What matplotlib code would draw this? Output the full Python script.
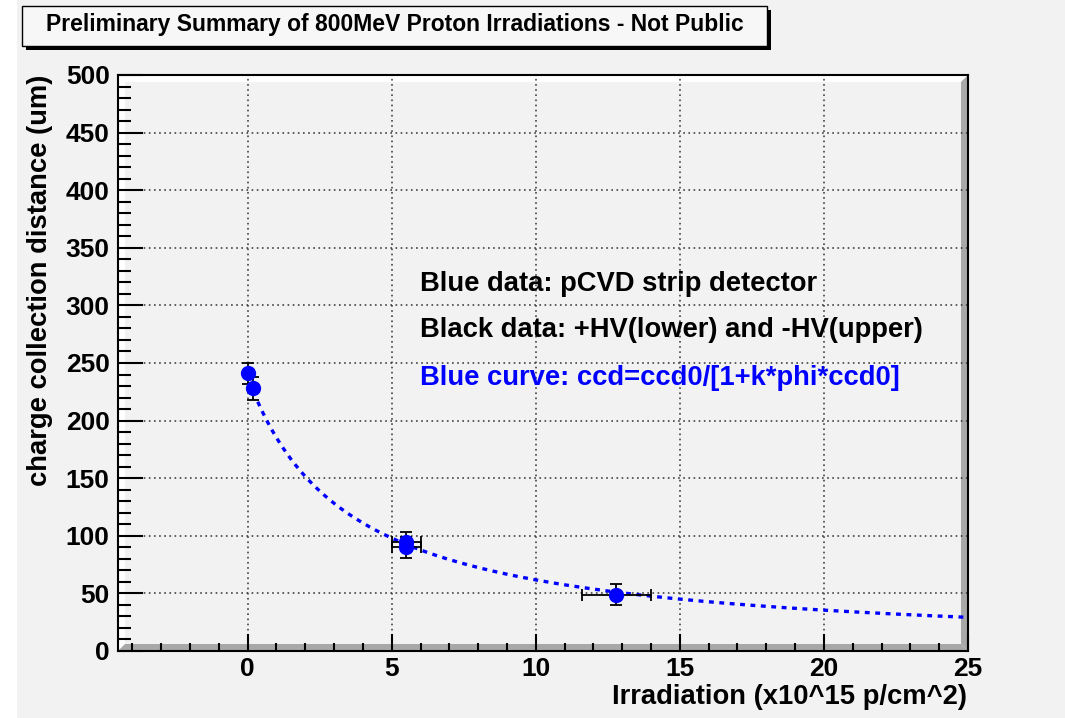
import numpy as np
import matplotlib.pyplot as plt
from matplotlib.patches import Polygon, Rectangle
from matplotlib.ticker import MultipleLocator

plt.rcParams['font.family'] = ['Liberation Sans', 'DejaVu Sans']
plt.rcParams['font.weight'] = 'bold'
plt.rcParams['lines.scale_dashes'] = False

# blue data: pCVD strip detector
phi = [0.0, 0.17, 5.5, 5.5, 12.8]
ccd = [241, 228, 95, 90, 49]
phi_err = [0, 0, 0.5, 0.5, 1.2]
ccd_err = [9, 10, 8, 9, 9]

# fit parameters, ccd = ccd0/(1+k*phi*ccd0)
ccd0 = 238.0
k = 0.0012
fit_start, fit_end = 0.35, 25

x_ticks = [0, 5, 10, 15, 20, 25]
y_ticks = [0, 50, 100, 150, 200, 250, 300, 350, 400, 450, 500]

title = 'Preliminary Summary of 800MeV Proton Irradiations - Not Public'
notes = ['Blue data: pCVD strip detector',
         'Black data: +HV(lower) and -HV(upper)',
         'Blue curve: ccd=ccd0/[1+k*phi*ccd0]']
note_colors = ['black', 'black', '#0000ff']
note_y = [319, 279, 237]

W, H = 1065, 718
bg = '#f2f2f2'

def px(x, y):
    # pixel position (from top-left) -> figure fraction
    return (x / W, 1 - y / H)

fig = plt.figure(figsize=(W / 100, H / 100), dpi=100, facecolor=bg)
fig.patches.append(Rectangle(px(0, H), 17 / W, 1, transform=fig.transFigure,
                             facecolor='white', edgecolor='none', zorder=0))

x0, x1, y0, y1 = 118, 968, 75, 651
ax = fig.add_axes([x0 / W, 1 - y1 / H, (x1 - x0) / W, (y1 - y0) / H])
ax.patch.set_visible(False)

# ROOT style bevelled frame
b = 7
bevels = [
    ([(x0, y0), (x1, y0), (x1 - b, y0 + b), (x0 + b, y0 + b)], 'white'),
    ([(x0, y0), (x0 + b, y0 + b), (x0 + b, y1 - b), (x0, y1)], 'white'),
    ([(x0, y1), (x1, y1), (x1 - b, y1 - b), (x0 + b, y1 - b)], '#a8a8a8'),
    ([(x1, y0), (x1, y1), (x1 - b, y1 - b), (x1 - b, y0 + b)], '#a8a8a8'),
]
for pts, c in bevels:
    ax.add_patch(Polygon([px(*p) for p in pts], closed=True, transform=fig.transFigure,
                         facecolor=c, edgecolor='none', zorder=0.1, clip_on=False))

ax.set_xlim(-4.5, 25)
ax.set_ylim(0, 500)
ax.xaxis.set_major_locator(MultipleLocator(5))
ax.xaxis.set_minor_locator(MultipleLocator(1))
ax.yaxis.set_major_locator(MultipleLocator(50))
ax.yaxis.set_minor_locator(MultipleLocator(10))
ax.set_xticks(x_ticks)
ax.set_yticks(y_ticks)
ax.tick_params(axis='both', which='both', direction='in', width=1.5, colors='black',
               top=False, right=False, labelsize=19)
ax.tick_params(axis='y', which='major', length=18, pad=6)
ax.tick_params(axis='y', which='minor', length=9)
ax.tick_params(axis='x', which='major', length=12, pad=4)
ax.tick_params(axis='x', which='minor', length=6)
for lab in ax.get_xticklabels() + ax.get_yticklabels():
    lab.set_fontweight('bold')
for s in ax.spines.values():
    s.set_linewidth(1.5)
    s.set_color('black')
ax.grid(which='major', linestyle=(0, (1.2, 2.5)), color='#333333', linewidth=1.1, zorder=0.2)

# fit curve
xf = np.linspace(fit_start, fit_end, 300)
yf = ccd0 / (1 + k * xf * ccd0)
ax.plot(xf, yf, color='#0000ff', linewidth=2.4, linestyle=(0, (3.5, 4)), zorder=2)

ax.errorbar(phi, ccd, xerr=phi_err, yerr=ccd_err, fmt='o', color='#0000ff', markersize=10,
            ecolor='black', elinewidth=1.3, capsize=4, capthick=1.3, zorder=3)

for t, c, yy in zip(notes, note_colors, note_y):
    ax.text(5.97, yy, t, color=c, fontsize=19.7, fontweight='bold', ha='left', va='center', zorder=4)

fig.text(*px(967, 697), 'Irradiation (x10^15 p/cm^2)', fontsize=19.7, fontweight='bold',
         ha='right', va='center')
fig.text(*px(40, 75), 'charge collection distance (um)', fontsize=19.7, fontweight='bold',
         rotation=90, ha='center', va='top')

# title box with shadow
bx0, bx1, by0, by1 = 22, 767, 6, 46
fig.patches.append(Rectangle(px(bx0 + 4, by1 + 4), (bx1 - bx0) / W, (by1 - by0) / H,
                             transform=fig.transFigure, facecolor='black', edgecolor='none', zorder=5))
fig.patches.append(Rectangle(px(bx0, by1), (bx1 - bx0) / W, (by1 - by0) / H,
                             transform=fig.transFigure, facecolor='#f7f7f7', edgecolor='black',
                             linewidth=1, zorder=6))
fig.text(*px((bx0 + bx1) / 2, (by0 + by1) / 2 - 2), title, fontsize=16.5, fontweight='bold',
         ha='center', va='center', zorder=7)

fig.savefig('out.png', dpi=100, facecolor=bg)
